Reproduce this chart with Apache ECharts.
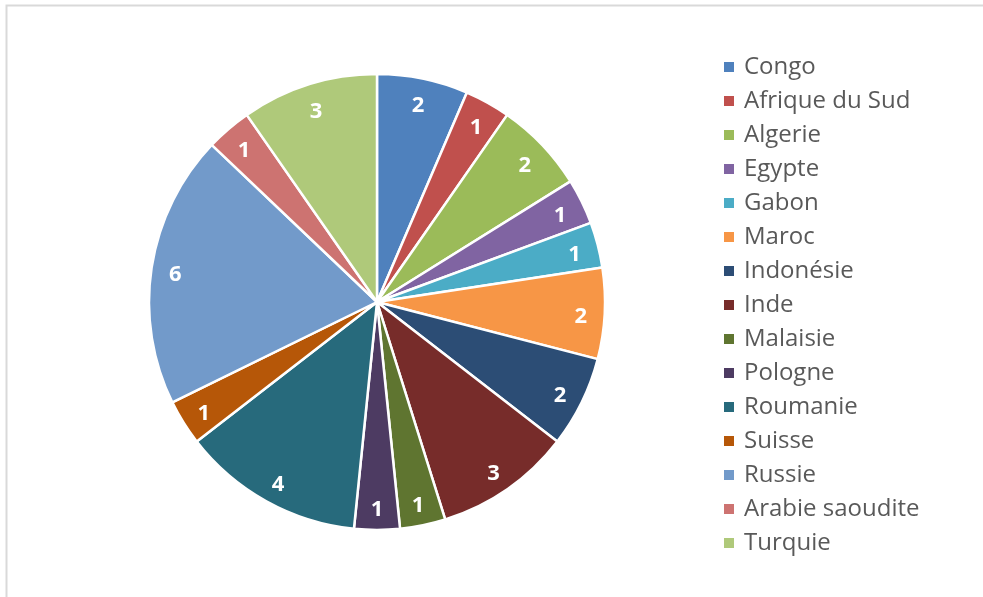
<!DOCTYPE html>
<html>
<head>
<meta charset="utf-8">
<script src="https://cdn.jsdelivr.net/npm/echarts@6/dist/echarts.min.js"></script>
<style>
  html, body { margin: 0; padding: 0; background: #fff; }
  #chart { width: 983px; height: 597px; }
</style>
</head>
<body>
<div id="chart"></div>
<script>
// Countries and their counts
const countries = [
  'Congo', 'Afrique du Sud', 'Algerie', 'Egypte', 'Gabon', 'Maroc',
  'Indonésie', 'Inde', 'Malaisie', 'Pologne', 'Roumanie', 'Suisse',
  'Russie', 'Arabie saoudite', 'Turquie'
];
const counts = [2, 1, 2, 1, 1, 2, 2, 3, 1, 1, 4, 1, 6, 1, 3];

// Office-style palette
const palette = [
  '#4F81BD', '#C0504D', '#9BBB59', '#8064A2', '#4BACC6', '#F79646',
  '#2C4D75', '#772C2A', '#5F7530', '#4D3B62', '#276A7C', '#B65708',
  '#729ACA', '#CD7371', '#AFC97A'
];

const pieData = countries.map((name, i) => ({ name, value: counts[i] }));

const center = [377, 302];
const chart = echarts.init(document.getElementById('chart'), null, { renderer: 'canvas' });

chart.setOption({
  animation: false,
  color: palette,
  graphic: [{
    type: 'rect',
    shape: { x: 6.5, y: 5.5, width: 1200, height: 800 },
    style: { fill: 'none', stroke: '#D9D9D9', lineWidth: 2 },
    silent: true
  }],
  legend: {
    orient: 'vertical',
    left: 722,
    top: 55,
    padding: 0,
    itemWidth: 12,
    itemHeight: 12,
    itemGap: 10,
    icon: 'rect',
    textStyle: { fontFamily: 'Open Sans', fontSize: 24, color: '#595959', lineHeight: 24, padding: [0, 0, 0, 4] },
    data: countries
  },
  series: [
    {
      type: 'pie',
      center: center,
      radius: [0, 228],
      startAngle: 90,
      clockwise: true,
      data: pieData,
      itemStyle: { borderColor: '#fff', borderWidth: 2.5 },
      label: { show: false },
      labelLine: { show: false },
      emphasis: { disabled: true }
    },
    {
      // transparent ring used only to place value labels near the rim
      type: 'pie',
      center: center,
      radius: [174, 228],
      startAngle: 90,
      clockwise: true,
      silent: true,
      data: pieData,
      itemStyle: { color: 'rgba(0,0,0,0)', borderWidth: 0 },
      label: {
        show: true,
        position: 'inside',
        formatter: '{c}',
        offset: [0, 4],
        color: '#fff',
        fontFamily: 'Open Sans',
        fontWeight: 'bold',
        fontSize: 22
      },
      labelLine: { show: false },
      emphasis: { disabled: true },
      legendHoverLink: false
    }
  ]
});
</script>
</body>
</html>
